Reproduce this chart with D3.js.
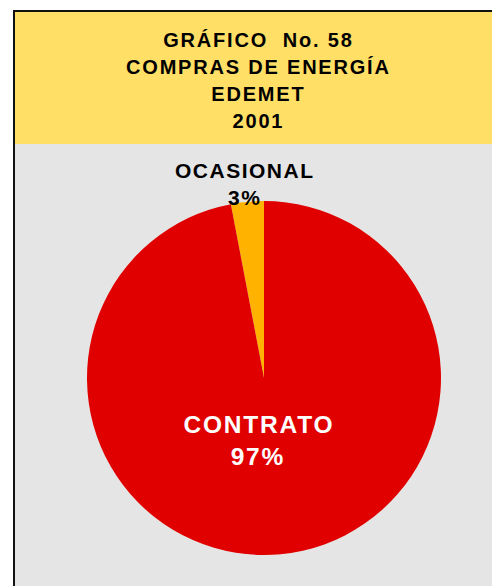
<!DOCTYPE html>
<html>
<head>
<meta charset="utf-8">
<script src="https://cdn.jsdelivr.net/npm/d3@7"></script>
<style>
 body { margin: 0; background: #fff; }
 text { font-family: "Liberation Sans", Arial, sans-serif; font-weight: bold; }
</style>
</head>
<body>
<div id="chart"></div>
<script>
// data
const categories = ["OCASIONAL", "CONTRATO"];
const values = [3, 97];
const labels = ["3%", "97%"];
const titleLines = ["GRÁFICO  No. 58", "COMPRAS DE ENERGÍA", "EDEMET", "2001"];
const colors = ["#FFB300", "#E00000"];

const W = 492, H = 586;
const svg = d3.select("#chart").append("svg")
  .attr("width", W).attr("height", H);

// frame
svg.append("rect").attr("x", 14).attr("y", 11).attr("width", W - 14).attr("height", H - 11)
  .attr("fill", "#E5E5E5");
svg.append("rect").attr("x", 14).attr("y", 11).attr("width", W - 14).attr("height", 133)
  .attr("fill", "#FFDF66");
svg.append("line").attr("x1", 14).attr("x2", W).attr("y1", 11).attr("y2", 11)
  .attr("stroke", "#111").attr("stroke-width", 2);
svg.append("line").attr("x1", 14).attr("x2", 14).attr("y1", 10).attr("y2", H)
  .attr("stroke", "#111").attr("stroke-width", 2);

// text helper: letter-spacing adds a trailing gap, shift half of it back
function label(x, y, size, ls, fill, txt) {
  svg.append("text").attr("x", x + ls / 2).attr("y", y).attr("text-anchor", "middle")
    .attr("font-size", size).attr("letter-spacing", ls).attr("fill", fill)
    .style("white-space", "pre").text(txt);
}

// title
titleLines.forEach((t, i) => label(257.5, 47 + i * 27, 20, 1.8, "#000", t));

// pie
const cx = 264, cy = 378, r = 177;
const a0 = -2 * Math.PI * values[0] / 100;
const pie = d3.pie().sort(null).value(d => d).startAngle(a0).endAngle(a0 + 2 * Math.PI);
const arc = d3.arc().innerRadius(0).outerRadius(r);
const g = svg.append("g").attr("transform", `translate(${cx},${cy})`);
g.selectAll("path").data(pie(values)).join("path")
  .attr("d", arc)
  .attr("fill", (d, i) => colors[i]);

// slice labels
label(244, 178, 21, 1.5, "#000", categories[0]);
label(244, 205, 21, 1.5, "#000", labels[0]);
label(258, 433, 24.5, 1.8, "#fff", categories[1]);
label(257, 465, 24.5, 1.8, "#fff", labels[1]);
</script>
</body>
</html>
